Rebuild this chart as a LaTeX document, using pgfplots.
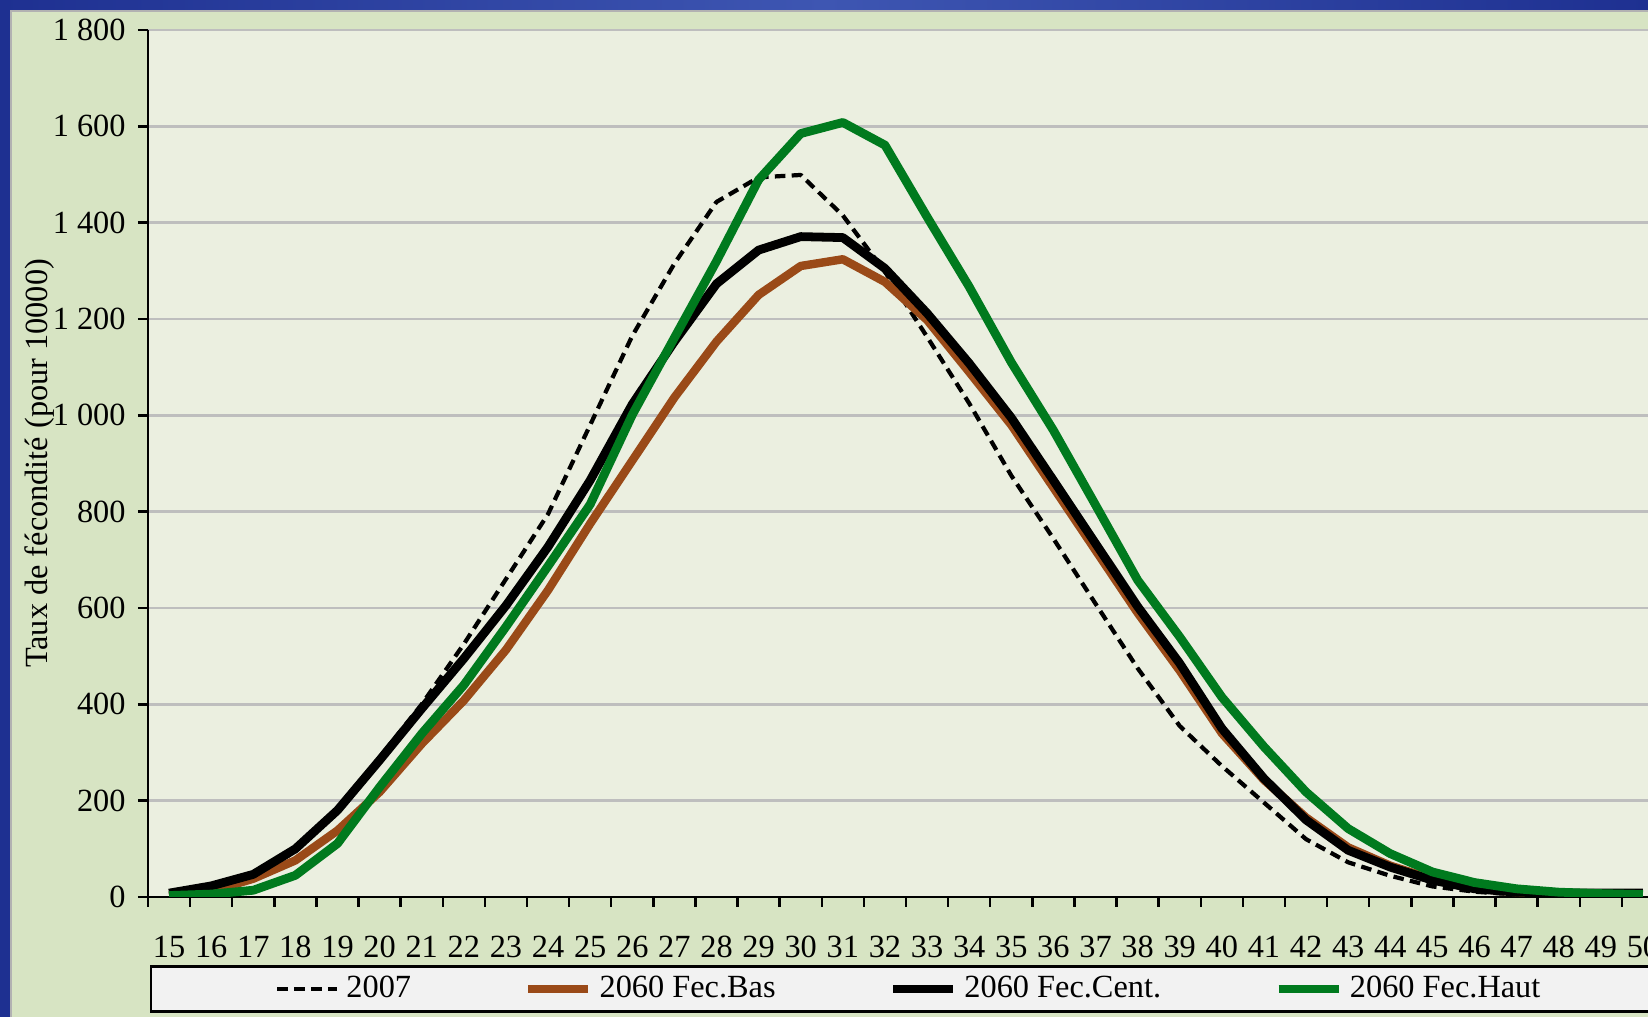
\documentclass[border=0pt]{standalone}
\usepackage{fontspec}
\setmainfont{Liberation Serif}
\usepackage{pgfplots}
\pgfplotsset{compat=1.18}
\usepackage{pgfplotstable}

\definecolor{bgGreen}{RGB}{215,228,195}
\definecolor{plotBg}{RGB}{235,239,224}
\definecolor{gridGray}{RGB}{190,190,190}
\definecolor{haut}{RGB}{0,122,30}
\definecolor{bas}{RGB}{154,74,24}
\definecolor{legBg}{RGB}{242,242,242}
\definecolor{blueD}{RGB}{30,48,145}
\definecolor{blueL}{RGB}{62,86,178}
\newcommand\fs{\fontsize{9.2pt}{11pt}\selectfont}

\pgfplotstableread{
age y2007 bas cent haut
15 5 3 8 3
16 15 12 23 6
17 42 38 47 14
18 95 76 100 45
19 185 138 180 111
20 290 218 284 228
21 400 318 391 339
22 525 408 495 440
23 660 513 605 561
24 795 637 727 687
25 980 775 865 815
26 1165 906 1023 1001
27 1315 1037 1153 1161
28 1443 1153 1273 1320
29 1494 1250 1343 1489
30 1499 1310 1371 1585
31 1415 1324 1369 1608
32 1298 1277 1305 1561
33 1163 1198 1212 1412
34 1025 1090 1108 1267
35 875 980 995 1110
36 744 850 865 969
37 609 720 734 814
38 475 590 603 658
39 355 470 485 540
40 272 340 350 415
41 196 243 246 312
42 120 165 160 218
43 72 103 97 142
44 44 65 62 90
45 22 37 35 52
46 11 18 17 30
47 5 10 10 17
48 3 6 8 10
49 2 5 8 7
50 1 4 8 5
}\data

\begin{document}
\begin{tikzpicture}
\useasboundingbox (0,0) rectangle (164.8mm,101.7mm);
\begin{scope}
\clip (0,0) rectangle (164.8mm,101.7mm);
\shade[left color=blueD, right color=blueD, middle color=blueL] (0,0) rectangle (164.8mm,101.7mm);
\fill[bgGreen, draw=gray!60, line width=0.3pt] (1.1mm,-1mm) rectangle (166mm,100.6mm);
\begin{axis}[
  at={(14.8mm,12.0mm)}, anchor=south west,
  scale only axis, width=151.6mm, height=86.7mm,
  xmin=14.5, xmax=50.5, ymin=0, ymax=1800,
  axis background/.style={fill=plotBg},
  axis x line*=bottom, axis y line*=left,
  axis line style={black, line width=0.7pt},
  tick align=outside, major tick length=1mm,
  tick style={black, line width=0.7pt},
  ytick={0,200,...,1800},
  yticklabels={0,200,400,600,800,1 000,1 200,1 400,1 600,1 800},
  scaled y ticks=false,
  ymajorgrids, grid style={gridGray, line width=0.75pt},
  xtick={14.5,15.5,...,50.5},
  x tick label as interval,
  xticklabels={15,16,17,18,19,20,21,22,23,24,25,26,27,28,29,30,31,32,33,34,35,36,37,38,39,40,41,42,43,44,45,46,47,48,49,50},
  tick label style={font=\fs, text=black},
  xticklabel style={yshift=-1.7mm},
  label style={font=\fs},
  ylabel={Taux de fécondité (pour 10000)},
  ylabel style={at={(axis description cs:-0.0715,0.5)}, anchor=center},
  no markers,
  legend columns=4,
  legend cell align=left,
  legend style={at={(axis description cs:0.0013,-0.1061)}, anchor=west,
    draw=black, line width=0.7pt, fill=legBg, font=\fs,
    inner xsep=12.4mm, inner ysep=0pt,
    nodes={inner ysep=2.6pt},
    /tikz/every even column/.append style={column sep=10.6mm}},
]
\addplot[black, line width=1.2pt, dash pattern=on 3pt off 1.8pt, line join=round] table[x=age,y=y2007]{\data};
\addlegendentry{2007}
\addplot[bas, line width=2.4pt, line join=round] table[x=age,y=bas]{\data};
\addlegendentry{2060 Fec.Bas}
\addplot[black, line width=2.5pt, line join=round] table[x=age,y=cent]{\data};
\addlegendentry{2060 Fec.Cent.}
\addplot[haut, line width=2.5pt, line join=round] table[x=age,y=haut]{\data};
\addlegendentry{2060 Fec.Haut}
\end{axis}
\end{scope}
\end{tikzpicture}
\end{document}
